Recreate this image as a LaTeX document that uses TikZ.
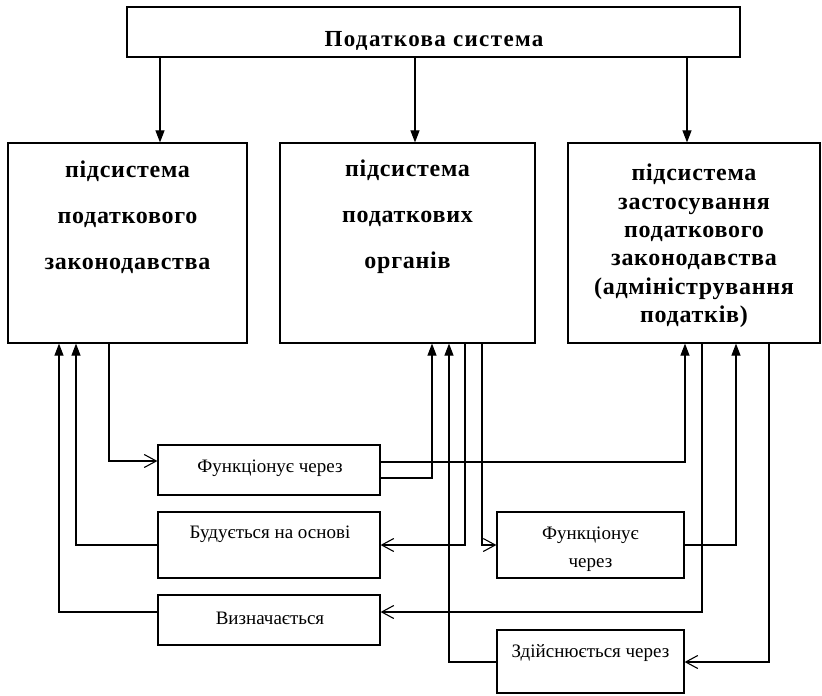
\documentclass[tikz,border=0pt]{standalone}
\usepackage{fontspec}
\setmainfont{Liberation Serif}
\newfontfamily\spacedserif[LetterSpace=3]{Liberation Serif}
\newfontfamily\titleserif[LetterSpace=6]{Liberation Serif}
\usetikzlibrary{arrows.meta}
\begin{document}
\begin{tikzpicture}[x=1pt,y=-1pt,
  box/.style={draw,line width=1.2pt,inner sep=0pt},
  conn/.style={line width=1.1pt},
  fa/.style={conn,-{Triangle[length=12pt,width=9pt]}},
  oa/.style={conn,-{Straight Barb[length=12pt,width=13pt,line width=1.1pt]}},
  bigtxt/.style={font=\spacedserif\fontsize{24}{46}\selectfont\bfseries,align=center,inner sep=0pt},
  bigtxtr/.style={font=\spacedserif\fontsize{24}{28.4}\selectfont\bfseries,align=center,inner sep=0pt},
  smalltxt/.style={font=\fontsize{19}{28}\selectfont,align=center,inner sep=0pt}]
\useasboundingbox (0,0) rectangle (822,696);

% boxes
\node[box,minimum width=613pt,minimum height=50pt] (top) at (433.5,32) {};
\node[font=\titleserif\fontsize{23}{25}\selectfont\bfseries,anchor=base,inner sep=0pt] (toptxt) at (434,46) {Податкова система};

\node[box,minimum width=239pt,minimum height=200pt] (L) at (127.5,243) {};
\node[bigtxt] (Lt) at (127.5,217) {підсистема\\податкового\\законодавства};
\node[box,minimum width=255pt,minimum height=200pt] (M) at (407.5,243) {};
\node[bigtxt] (Mt) at (407.5,217) {підсистема\\податкових\\органів};
\node[box,minimum width=252pt,minimum height=200pt] (R) at (694,243) {};
\node[bigtxtr] (Rt) at (694,246) {підсистема\\застосування\\податкового\\законодавства\\(адміністрування\\податків)};

\node[box,minimum width=222pt,minimum height=50pt] (f1) at (269,470) {};
\node[smalltxt] (f1t) at (270,468) {Функціонує через};
\node[box,minimum width=222pt,minimum height=66pt] (b) at (269,545) {};
\node[smalltxt] (bt) at (270,534) {Будується на основі};
\node[box,minimum width=222pt,minimum height=50pt] (v) at (269,620) {};
\node[smalltxt] (vt) at (270,618) {Визначається};
\node[box,minimum width=187pt,minimum height=66pt] (f2) at (590.5,545) {};
\node[smalltxt] (f2t) at (590.5,549) {Функціонує\\через};
\node[box,minimum width=187pt,minimum height=63pt] (z) at (590.5,661.5) {};
\node[smalltxt] (zt) at (590.5,653) {Здійснюється через};

% top arrows
\draw[fa] (top.south -| 160,0) -- (160,0 |- L.north);
\draw[fa] (top.south -| 415,0) -- (415,0 |- M.north);
\draw[fa] (top.south -| 687,0) -- (687,0 |- R.north);

% lower connectors
\draw[oa] (L.south -| 109,0) -- (109,461) -- (f1.west |- 0,461);
\draw[fa] (f1.east |- 0,478) -- (432,478) -- (432,0 |- M.south);
\draw[fa] (f1.east |- 0,462) -- (685,462) -- (685,0 |- R.south);
\draw[oa] (M.south -| 465,0) -- (465,545) -- (b.east |- 0,545);
\draw[oa] (M.south -| 482,0) -- (482,545) -- (f2.west |- 0,545);
\draw[fa] (b.west |- 0,545) -- (76,545) -- (76,0 |- L.south);
\draw[fa] (v.west |- 0,612) -- (59,612) -- (59,0 |- L.south);
\draw[fa] (f2.east |- 0,545) -- (736,545) -- (736,0 |- R.south);
\draw[oa] (R.south -| 702,0) -- (702,612) -- (v.east |- 0,612);
\draw[oa] (R.south -| 769,0) -- (769,662) -- (z.east |- 0,662);
\draw[fa] (z.west |- 0,662) -- (449,662) -- (449,0 |- M.south);
\end{tikzpicture}
\end{document}
